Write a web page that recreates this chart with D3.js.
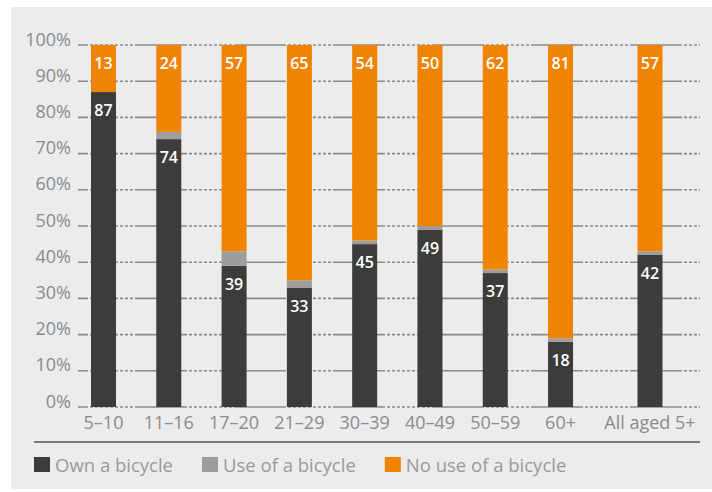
<!DOCTYPE html>
<html>
<head>
<meta charset="utf-8">
<script src="https://cdn.jsdelivr.net/npm/d3@7"></script>
<style>
  html, body { margin: 0; padding: 0; background: #ffffff; }
  svg { display: block; }
</style>
</head>
<body>
<svg id="chart" width="712" height="492"></svg>
<script>
// ---- data ----
const categories = ["5–10", "11–16", "17–20", "21–29", "30–39", "40–49", "50–59", "60+", "All aged 5+"];
const ownBicycle = [87, 74, 39, 33, 45, 49, 37, 18, 42];
const useBicycle = [0, 2, 4, 2, 1, 1, 1, 1, 1];
const noUseBicycle = [13, 24, 57, 65, 54, 50, 62, 81, 57];
const yTicks = [0, 10, 20, 30, 40, 50, 60, 70, 80, 90, 100];
const seriesNames = ["Own a bicycle", "Use of a bicycle", "No use of a bicycle"];

// ---- style / layout ----
const colors = ["#3c3c3b", "#9d9d9c", "#f08300"];
const fontFam = "'Open Sans', 'DejaVu Sans', sans-serif";
const textGray = "#8b8b8b";
const svg = d3.select("#chart");
const W = 712, H = 492;

svg.append("rect").attr("x", 11).attr("y", 7).attr("width", W - 11).attr("height", 482).attr("fill", "#ececec");

// slot positions: last group is set apart by an extra gap
const extraGap = 0.37;
const slot = categories.map((c, i) => i === categories.length - 1 ? i + extraGap : i);
const x = d3.scaleLinear().domain([0, d3.max(slot)]).range([103.5, 650]);
const barW = 25;
const y = d3.scaleLinear().domain([0, 100]).range([407, 45]);

const gridX0 = 78, gridX1 = 700;

// gridlines (mixed long dash / dotted pattern)
const dash = [52, 2].concat(d3.range(9).flatMap(() => [3, 2]));
const g = svg.append("g");
g.selectAll("line.grid").data(yTicks).join("line")
  .attr("class", "grid")
  .attr("x1", gridX0).attr("x2", gridX1)
  .attr("y1", d => y(d)).attr("y2", d => y(d))
  .attr("stroke", "#8a8a8a").attr("stroke-width", 1.6)
  .attr("stroke-dasharray", dash.join(","))
  .attr("stroke-dashoffset", 42);

// y tick labels
g.selectAll("text.ytick").data(yTicks).join("text")
  .attr("class", "ytick")
  .attr("x", 71).attr("y", d => y(d) + 0.5)
  .attr("text-anchor", "end")
  .attr("font-family", fontFam).attr("font-size", 18)
  .attr("fill", textGray)
  .text(d => d + "%");

// stacked data
const rows = categories.map((c, i) => ({ cat: c, i, vals: [ownBicycle[i], useBicycle[i], noUseBicycle[i]] }));
const bars = svg.append("g");
rows.forEach(r => {
  let acc = 0;
  r.vals.forEach((v, k) => {
    const y0 = acc, y1 = acc + v;
    acc = y1;
    if (v <= 0) return;
    bars.append("rect")
      .attr("x", x(slot[r.i]) - barW / 2)
      .attr("width", barW)
      .attr("y", y(y1))
      .attr("height", y(y0) - y(y1))
      .attr("fill", colors[k]);
  });
});

// value labels (own & no use)
const labels = svg.append("g")
  .attr("font-family", fontFam).attr("font-size", 16).attr("font-weight", 600)
  .attr("fill", "#ffffff").attr("text-anchor", "middle");
rows.forEach(r => {
  const own = r.vals[0], use = r.vals[1], no = r.vals[2];
  labels.append("text").attr("x", x(slot[r.i])).attr("y", y(own) + 24).text(own);
  labels.append("text").attr("x", x(slot[r.i])).attr("y", y(own + use + no) + 24).text(no);
});

// x labels
svg.append("g").selectAll("text").data(rows).join("text")
  .attr("x", d => x(slot[d.i])).attr("y", 429)
  .attr("text-anchor", "middle")
  .attr("font-family", fontFam).attr("font-size", 18)
  .attr("fill", textGray)
  .text(d => d.cat);

// separator
svg.append("line").attr("x1", 34).attr("x2", 700).attr("y1", 442).attr("y2", 442)
  .attr("stroke", "#7a7a7a").attr("stroke-width", 2);

// legend
const leg = svg.append("g");
let lx = 34;
seriesNames.forEach((name, k) => {
  leg.append("rect").attr("x", lx).attr("y", 457).attr("width", 16).attr("height", 15).attr("fill", colors[k]);
  const t = leg.append("text").attr("x", lx + 21).attr("y", 471.5)
    .attr("font-family", fontFam).attr("font-size", 18.5)
    .attr("fill", "#9a9a9a").text(name);
  lx = lx + 21 + t.node().getComputedTextLength() + 29;
});
</script>
</body>
</html>
